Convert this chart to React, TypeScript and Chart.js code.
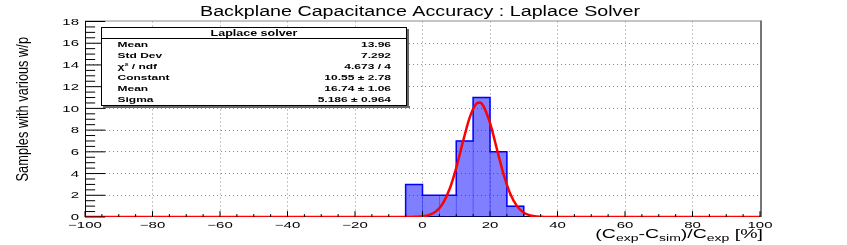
import React, { useEffect, useRef } from 'react';
import { Chart, registerables } from 'chart.js';

Chart.register(...registerables);

// ---------- text ----------
const TITLE = 'Backplane Capacitance Accuracy : Laplace Solver';
const Y_TITLE = 'Samples with various w/p';
const X_TITLE_PARTS: [string, boolean][] = [
  ['(C', false], ['exp', true], ['-C', false], ['sim', true], [')/C', false], ['exp', true], [' [%]', false],
];

// ---------- histogram data ----------
const binLowEdges = [-5, 0, 5, 10, 15, 20, 25];
const binWidth = 5;
const binCounts = [3, 2, 2, 7, 11, 6, 1];

// ---------- fitted gaussian ----------
const fitX = [-100, -6, -4, -2, 0, 2, 4, 6, 8, 10, 12, 14, 16, 17, 18, 20, 22, 24, 26, 28, 30, 32, 34, 36, 38, 40, 100];
const fitY = [0, 0, 0, 0.02, 0.06, 0.19, 0.52, 1.24, 2.55, 4.53, 6.95, 9.18, 10.44, 10.54, 10.24, 8.66, 6.31, 3.96, 2.14, 1.0, 0.4, 0.14, 0.04, 0.01, 0, 0, 0];

// ---------- axes ----------
const X_MIN = -100;
const X_MAX = 100;
const X_STEP = 20;
const X_MINOR = 5;
const Y_MIN = 0;
const Y_MAX = 18;
const Y_STEP = 2;
const Y_MINOR = 0.5;

// ---------- stats box ----------
const statsTitle = 'Laplace solver';
const statNames = ['Mean', 'Std Dev', 'χ² / ndf', 'Constant', 'Mean', 'Sigma'];
const statValues = ['13.96', '7.292', '4.673 / 4', '10.55 ± 2.78', '16.74 ± 1.06', '5.186 ± 0.964'];

const FONT = '"Liberation Sans", Arial, Helvetica, sans-serif';

function drawText(
  ctx: CanvasRenderingContext2D, s: string, x: number, y: number,
  size: number, vs: number, align: CanvasTextAlign, weight = 'normal',
) {
  ctx.save();
  ctx.translate(x, y);
  ctx.scale(1, vs);
  ctx.font = `${weight} ${size}px ${FONT}`;
  ctx.textAlign = align;
  ctx.textBaseline = 'alphabetic';
  ctx.fillStyle = '#000';
  ctx.fillText(s, 0, 0);
  ctx.restore();
}

const fmt = (v: number) => (v < 0 ? '\u2212' + String(Math.abs(v)) : String(v));

const rootPlugin = {
  id: 'rootDecor',
  beforeDraw(chart: any) {
    const ctx = chart.ctx as CanvasRenderingContext2D;
    ctx.save();
    ctx.fillStyle = '#fff';
    ctx.fillRect(0, 0, chart.width, chart.height);
    ctx.restore();
  },
  beforeDatasetsDraw(chart: any) {
    const ctx = chart.ctx as CanvasRenderingContext2D;
    const { left, right, top, bottom } = chart.chartArea;
    ctx.save();
    ctx.strokeStyle = '#8a8a8a';
    ctx.lineWidth = 1;
    ctx.beginPath();
    ctx.moveTo(left, top - 0.5);
    ctx.lineTo(right + 1, top - 0.5);
    ctx.stroke();
    ctx.fillStyle = '#777';
    ctx.fillRect(right, top - 1, 2, bottom - top + 1);
    ctx.strokeStyle = '#000';
    ctx.beginPath();
    ctx.moveTo(left + 0.5, top);
    ctx.lineTo(left + 0.5, bottom);
    ctx.moveTo(left, bottom - 0.5);
    ctx.lineTo(right, bottom - 0.5);
    ctx.stroke();
    ctx.restore();
  },
  afterDraw(chart: any) {
    const ctx = chart.ctx as CanvasRenderingContext2D;
    const { left, right, top, bottom } = chart.chartArea;
    const xs = chart.scales.x;
    const ys = chart.scales.y;

    ctx.save();
    ctx.strokeStyle = '#000';
    ctx.lineWidth = 1;
    ctx.beginPath();
    const xMajLen = 0.03 * (bottom - top);
    for (let v = X_MIN; v <= X_MAX + 1e-9; v += X_MINOR) {
      const px = xs.getPixelForValue(v);
      const major = Math.abs(Math.round(v / X_STEP) * X_STEP - v) < 1e-9;
      ctx.moveTo(px, bottom);
      ctx.lineTo(px, bottom - (major ? xMajLen : xMajLen / 2));
    }
    const yMajLen = 0.03 * (right - left);
    for (let v = Y_MIN; v <= Y_MAX + 1e-9; v += Y_MINOR) {
      const py = ys.getPixelForValue(v);
      const major = Math.abs(Math.round(v / Y_STEP) * Y_STEP - v) < 1e-9;
      ctx.moveTo(left, py);
      ctx.lineTo(left + (major ? yMajLen : yMajLen / 2), py);
    }
    ctx.stroke();
    ctx.restore();

    xs.ticks.forEach((t: any) => {
      drawText(ctx, fmt(t.value), xs.getPixelForValue(t.value), bottom + 10.5, 15, 0.6, 'center');
    });
    ys.ticks.forEach((t: any) => {
      drawText(ctx, fmt(t.value), left - 6, ys.getPixelForValue(t.value) + 3.2, 15, 0.6, 'right');
    });

    // title
    drawText(ctx, TITLE, 420, 16, 19.7, 0.72, 'center');

    // y title (rotated)
    ctx.save();
    ctx.translate(28, 37);
    ctx.rotate(-Math.PI / 2);
    ctx.scale(0.8, 1);
    ctx.font = `normal 16px ${FONT}`;
    ctx.textAlign = 'right';
    ctx.textBaseline = 'alphabetic';
    ctx.fillStyle = '#000';
    ctx.fillText(Y_TITLE, 0, 0);
    ctx.restore();

    // x title with subscripts
    const mainSize = 19.5;
    const subSize = 14;
    ctx.save();
    let total = 0;
    const widths = X_TITLE_PARTS.map(([s, sub]) => {
      ctx.font = `normal ${sub ? subSize : mainSize}px ${FONT}`;
      const w = ctx.measureText(s).width;
      total += w;
      return w;
    });
    ctx.restore();
    let cx = right + 3 - total;
    X_TITLE_PARTS.forEach(([s, sub], i) => {
      drawText(ctx, s, cx, sub ? 240.5 : 237.5, sub ? subSize : mainSize, 0.63, 'left');
      cx += widths[i];
    });

    // stats box
    const bx0 = 101, by0 = 27, bx1 = 407, by1 = 106;
    ctx.save();
    ctx.fillStyle = '#666';
    ctx.fillRect(bx0 + 2, by1, bx1 - bx0 + 1, 2);
    ctx.fillRect(bx1, by0 + 2, 2, by1 - by0);
    ctx.fillStyle = '#fff';
    ctx.fillRect(bx0, by0, bx1 - bx0, by1 - by0);
    ctx.strokeStyle = '#000';
    ctx.lineWidth = 1;
    ctx.strokeRect(bx0 + 0.5, by0 + 0.5, bx1 - bx0 - 1, by1 - by0 - 1);
    ctx.beginPath();
    ctx.moveTo(bx0, 38.5);
    ctx.lineTo(bx1, 38.5);
    ctx.stroke();
    ctx.restore();
    drawText(ctx, statsTitle, (bx0 + bx1) / 2, 35.9, 12.5, 0.65, 'center', 'bold');
    statNames.forEach((name, i) => {
      const cy = 44 + i * 11 + 2.8;
      drawText(ctx, name, 117.5, cy, 12, 0.65, 'left', 'bold');
      drawText(ctx, statValues[i], 391, cy, 12, 0.65, 'right', 'bold');
    });
  },
};

const gridColor = (v: number, lo: number, hi: number) =>
  Math.abs(v - lo) < 1e-9 || Math.abs(v - hi) < 1e-9 ? 'rgba(0,0,0,0)' : '#8c8c8c';

export default function App() {
  const ref = useRef<HTMLCanvasElement | null>(null);

  useEffect(() => {
    if (!ref.current) return;
    const barData = binLowEdges.map((e, i) => ({ x: e + binWidth / 2, y: binCounts[i] }));
    const outline = [
      { x: binLowEdges[0], y: 0 },
      ...binLowEdges.map((e, i) => ({ x: e, y: binCounts[i] })),
      { x: binLowEdges[binLowEdges.length - 1] + binWidth, y: 0 },
    ];
    const fitData = fitX.map((x, i) => ({ x, y: fitY[i] }));

    const chart = new Chart(ref.current, {
      type: 'bar',
      data: {
        datasets: [
          {
            type: 'bar',
            data: barData as any,
            backgroundColor: 'rgba(0,0,255,0.5)',
            borderWidth: 0,
            barPercentage: 1,
            categoryPercentage: 1,
            order: 3,
          } as any,
          {
            type: 'line',
            data: outline as any,
            stepped: 'before',
            borderColor: '#0000ff',
            borderWidth: 1.5,
            pointRadius: 0,
            fill: false,
            order: 2,
          } as any,
          {
            type: 'line',
            data: fitData as any,
            borderColor: '#ff0000',
            borderWidth: 2.5,
            pointRadius: 0,
            fill: false,
            cubicInterpolationMode: 'monotone',
            order: 1,
          } as any,
        ],
      },
      options: {
        animation: false,
        responsive: false,
        devicePixelRatio: 1,
        events: [],
        layout: { padding: { left: 85, right: 87, top: 21.5, bottom: 28 } },
        plugins: {
          legend: { display: false },
          title: { display: false },
          tooltip: { enabled: false },
        },
        scales: {
          x: {
            type: 'linear',
            min: X_MIN,
            max: X_MAX,
            offset: false,
            ticks: { display: false, stepSize: X_STEP },
            grid: {
              offset: false,
              drawTicks: false,
              lineWidth: 1,
              color: (c: any) => gridColor(c.tick ? c.tick.value : X_MIN, X_MIN, X_MAX),
            },
            border: { display: false, dash: [1, 3] },
          },
          y: {
            type: 'linear',
            min: Y_MIN,
            max: Y_MAX,
            ticks: { display: false, stepSize: Y_STEP },
            grid: {
              drawTicks: false,
              lineWidth: 1,
              color: (c: any) => gridColor(c.tick ? c.tick.value : Y_MIN, Y_MIN, Y_MAX),
            },
            border: { display: false, dash: [1, 3] },
          },
        },
      } as any,
      plugins: [rootPlugin],
    });
    return () => chart.destroy();
  }, []);

  return (
    <div style={{ position: 'fixed', left: 0, top: 0, width: 847, height: 245, background: '#fff' }}>
      <canvas ref={ref} width={847} height={245} style={{ width: 847, height: 245, display: 'block' }} />
    </div>
  );
}
